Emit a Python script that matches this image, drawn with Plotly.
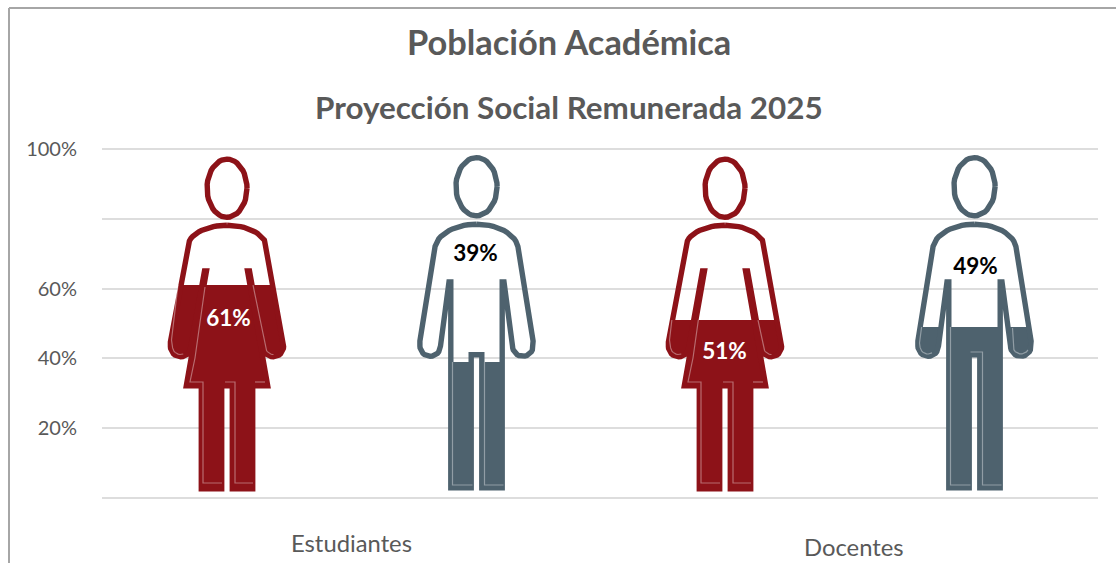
import math
import plotly.graph_objects as go

# ---- chart data ----
TITLE = "Población Académica"
SUBTITLE = "Proyección Social Remunerada 2025"
GROUPS = ["Estudiantes", "Docentes"]
GROUP_MEMBERS = [[0, 1], [2, 3]]
FIGURES = ["mujer", "hombre", "mujer", "hombre"]
VALUES = [61, 39, 51, 49]
Y_TICKS = [0, 20, 40, 60, 80, 100]
Y_TICK_LABELS = ["", "20%", "40%", "60%", "", "100%"]

# ---- styles ----
COLORS = {"mujer": "#8D1218", "hombre": "#4E626E"}
LABEL_COLORS = {"mujer": "#FFFFFF", "hombre": "#000000"}
LABEL_LEVEL = [51, 69.4, 41.4, 65.8]     # height of each percentage label on the y axis
LABEL_SHIFT = [2, 0, 0, 2]               # px
TEXT_GREY = "#595959"
GRID = "#DDDDDD"
FONT = "Lato"
STROKE = 5.4

W, H = 1116, 563
M_L, M_R, M_T, M_B = 102, 18, 149, 65
PLOT_W, PLOT_H = W - M_L - M_R, H - M_T - M_B
BAND = PLOT_W / len(VALUES)
UNIT = PLOT_H / 100            # glyph units per 1 % on the y axis


def arc(cx, cy, rx, ry, a0, a1, n=10):
    return [(cx + rx * math.cos(math.radians(a0 + (a1 - a0) * i / n)),
             cy + ry * math.sin(math.radians(a0 + (a1 - a0) * i / n))) for i in range(n + 1)]


def mirror(half):
    return half + [(-x, y) for x, y in reversed(half)]


# Pictogram glyphs: x = offset from the figure's axis, y = glyph units down the page box.
HALF_WOMAN = (arc(0, 248, 39.8, 22.8, -90, -20, 14)
              + [(37.6, 241), (56.6, 342)]
              + arc(46.3, 346.5, 10.3, 10.3, 0, 180, 16)
              + [(22.5, 271), (20.5, 271), (40.7, 385.7), (25.7, 385.7), (25.7, 488.7),
                 (5.3, 488.7), (5.3, 385.7), (0, 385.7)])
HALF_MAN = (arc(0, 250, 41.8, 25.8, -90, -8, 14)
            + [(56.6, 341)]
            + arc(46.3, 346, 10.3, 10.3, 0, 180, 16)
            + [(27.5, 282), (25.7, 282), (25.7, 487.7), (5.3, 487.7), (5.3, 354.7), (0, 354.7)])

GLYPHS = {
    "mujer": {"dx": 0.5, "head": (188.2, 20.0, 29.1), "body": mirror(HALF_WOMAN),
              "inner": [
                  [(-49, 285), (-55.5, 340)] + arc(-46.5, 346.5, 8, 8, 170, 70, 8),
                  [(-22, 287), (-32, 358), (-37, 382), (-24, 382), (-24, 483), (-5, 483)],
                  [(-2, 382), (8, 382), (8, 483), (26, 483)],
                  [(26, 285), (37, 340)] + arc(46.5, 346.5, 8, 8, 170, 90, 8),
                  [(28, 382), (38, 382)],
              ]},
    "hombre": {"dx": 1.0, "head": (186.7, 20.6, 29.1), "body": mirror(HALF_MAN),
               "inner": [
                   [(-24, 285), (-24, 485), (-4, 485)],
                   [(-4, 352), (8, 352), (8, 485), (27, 485)],
                   [(-52, 320), (-55, 343)] + arc(-46.5, 346, 8, 8, 170, 60, 8),
                   [(38, 328), (39, 343)] + arc(46.5, 346, 8, 8, 170, 30, 8),
               ]},
}


def to_level(py):
    return (M_T + PLOT_H - py) / UNIT


def clip_polygon(points, level):
    """Keep the part of a polygon (x, y-axis value) lying at or under the level."""
    out = []
    for i, (x0, y0) in enumerate(points):
        x1, y1 = points[(i + 1) % len(points)]
        if y0 <= level:
            out.append((x0, y0))
        if (y0 <= level) != (y1 <= level):
            t = (level - y0) / (y1 - y0)
            out.append((x0 + t * (x1 - x0), level))
    return out


def clip_polyline(points, level):
    xs, ys = [], []
    for (x0, y0), (x1, y1) in zip(points, points[1:]):
        in0, in1 = y0 <= level, y1 <= level
        if in0:
            xs.append(x0); ys.append(y0)
        if in0 != in1:
            t = (level - y0) / (y1 - y0)
            xs.append(x0 + t * (x1 - x0)); ys.append(level)
            if in0:
                xs.append(None); ys.append(None)
    if points[-1][1] <= level:
        xs.append(points[-1][0]); ys.append(points[-1][1])
    return xs, ys


fig = go.Figure()

for i, (kind, value) in enumerate(zip(FIGURES, VALUES)):
    g = GLYPHS[kind]
    color = COLORS[kind]
    sx = lambda dx: i + (dx + g["dx"]) / BAND

    body = [(sx(x), to_level(y)) for x, y in g["body"]]
    filled = clip_polygon(body, value)
    fig.add_trace(go.Scatter(x=[p[0] for p in filled] + [filled[0][0]],
                             y=[p[1] for p in filled] + [filled[0][1]],
                             mode="lines", fill="toself", fillcolor=color,
                             line=dict(width=0, color=color), hoverinfo="skip", showlegend=False))
    fig.add_trace(go.Scatter(x=[p[0] for p in body] + [body[0][0]],
                             y=[p[1] for p in body] + [body[0][1]],
                             mode="lines", line=dict(color=color, width=STROKE),
                             hoverinfo="skip", showlegend=False))
    cy, rx, ry = g["head"]
    head = arc(0, cy, rx, ry, 0, 360, 48)
    fig.add_trace(go.Scatter(x=[sx(p[0]) for p in head], y=[to_level(p[1]) for p in head],
                             mode="lines", line=dict(color=color, width=STROKE),
                             hoverinfo="skip", showlegend=False))
    for line in g["inner"]:
        xs, ys = clip_polyline([(sx(x), to_level(y)) for x, y in line], value)
        if xs:
            fig.add_trace(go.Scatter(x=xs, y=ys, mode="lines",
                                     line=dict(color="rgba(255,255,255,0.38)", width=1.2),
                                     hoverinfo="skip", showlegend=False))
    fig.add_trace(go.Scatter(x=[i + LABEL_SHIFT[i] / BAND], y=[LABEL_LEVEL[i]], mode="text",
                             text=[f"{value}%"], textposition="middle center",
                             textfont=dict(family=FONT, size=22.5, color=LABEL_COLORS[kind], weight="bold"),
                             hoverinfo="skip", showlegend=False))

annotations = [
    dict(text=f"<b>{TITLE}</b>", xref="paper", yref="paper", x=(568.5 - M_L) / PLOT_W,
         y=(M_T + PLOT_H - 42) / PLOT_H, xanchor="center", yanchor="middle", showarrow=False,
         font=dict(family=FONT, size=34.4, color=TEXT_GREY)),
    dict(text=f"<b>{SUBTITLE}</b>", xref="paper", yref="paper", x=(568.5 - M_L) / PLOT_W,
         y=(M_T + PLOT_H - 107) / PLOT_H, xanchor="center", yanchor="middle", showarrow=False,
         font=dict(family=FONT, size=31.4, color=TEXT_GREY)),
]
GROUP_LABEL_SHIFT = [(0, 45), (5, 49)]   # px offset right of the group's centre, px under the baseline
for name, members, (dx, dy) in zip(GROUPS, GROUP_MEMBERS, GROUP_LABEL_SHIFT):
    annotations.append(dict(text=name, xref="x", yref="y", x=sum(members) / len(members), y=0,
                            xshift=dx, yshift=-dy, xanchor="center", yanchor="middle",
                            showarrow=False, font=dict(family=FONT, size=23.8, color=TEXT_GREY)))

frame = dict(color="#A6A6A6", width=2)
px_x = lambda px: (px - M_L) / PLOT_W
px_y = lambda py: (M_T + PLOT_H - py) / PLOT_H
shapes = [
    dict(type="line", xref="paper", yref="paper", x0=px_x(9), x1=px_x(9), y0=px_y(8), y1=px_y(563), line=frame),
    dict(type="line", xref="paper", yref="paper", x0=px_x(9), x1=px_x(1116), y0=px_y(8), y1=px_y(8), line=frame),
]
# plotly omits gridlines lying on the edge of the range, so the 0 and 100 rules are drawn as paper lines
for level in (Y_TICKS[0], Y_TICKS[-1]):
    frac = level / Y_TICKS[-1]
    shapes.append(dict(type="line", xref="paper", yref="paper", x0=0, x1=1, y0=frac, y1=frac,
                       layer="below", line=dict(color=GRID, width=2)))

fig.update_layout(
    width=W, height=H, margin=dict(l=M_L, r=M_R, t=M_T, b=M_B, pad=0),
    paper_bgcolor="white", plot_bgcolor="white", showlegend=False,
    annotations=annotations, shapes=shapes,
    xaxis=dict(range=[-0.5, len(VALUES) - 0.5], showgrid=False, zeroline=False,
               showticklabels=False, ticks="", showline=False, fixedrange=True),
    yaxis=dict(range=[0, 100], tickvals=Y_TICKS, ticktext=Y_TICK_LABELS, showgrid=True,
               gridcolor=GRID, gridwidth=2, zeroline=False, showline=False, ticks="",
               ticklabelstandoff=24, tickfont=dict(family=FONT, size=20, color=TEXT_GREY),
               fixedrange=True),
)

fig.write_html("out.html", config={"displayModeBar": False},
               post_script="document.body.style.margin='0';document.body.style.overflow='hidden';")
